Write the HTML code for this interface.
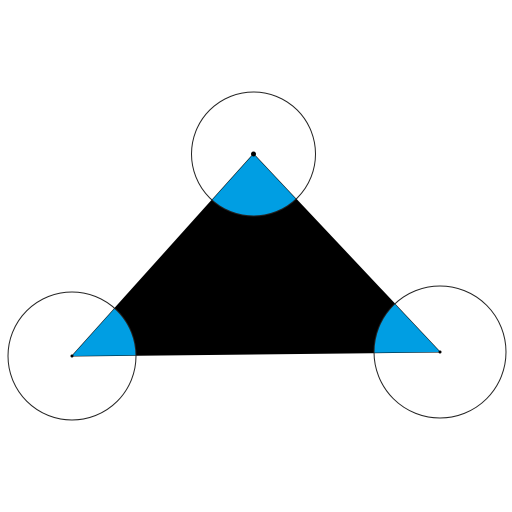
<!DOCTYPE html>
<html><head><meta charset="utf-8"><style>html,body{margin:0;padding:0;background:#fff}svg{display:block}</style></head>
<body>
<svg width="512" height="512" viewBox="0 0 512 512">
<defs>
<clipPath id="tri"><polygon points="253.5,154 72,356 440,352"/></clipPath>
</defs>
<polygon points="253.5,154 72,356 440,352" fill="#000" stroke="#000" stroke-width="1"/>
<g clip-path="url(#tri)">
<circle cx="253.5" cy="154" r="62" fill="#009ee3"/>
<circle cx="72" cy="356" r="64" fill="#009ee3"/>
<circle cx="440" cy="352" r="66" fill="#009ee3"/>
</g>
<circle cx="253.5" cy="154" r="62" fill="none" stroke="#222" stroke-width="1"/>
<circle cx="72" cy="356" r="64" fill="none" stroke="#222" stroke-width="1"/>
<circle cx="440" cy="352" r="66" fill="none" stroke="#222" stroke-width="1"/>
<circle cx="253.5" cy="154" r="2.5" fill="#000"/>
<circle cx="72" cy="356" r="1.5" fill="#000"/>
<circle cx="440" cy="352" r="1.5" fill="#000"/>
</svg>
</body></html>
